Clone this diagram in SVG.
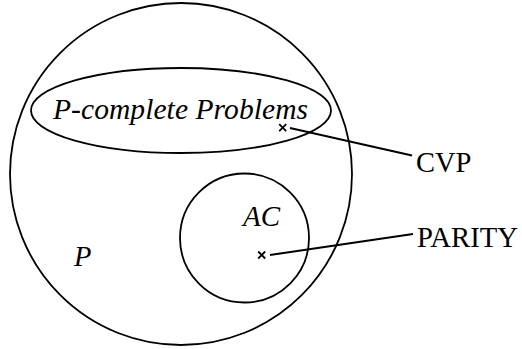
<svg xmlns="http://www.w3.org/2000/svg" width="522" height="349" viewBox="0 0 522 349">
<style>
.s{fill:none;stroke:#000;stroke-width:1.8}
.x{fill:none;stroke:#000;stroke-width:1.8}
text{font-family:'Liberation Serif','Times New Roman',Times,serif;font-size:28.5px;fill:#000}
.i{font-style:italic}
</style>
<rect width="522" height="349" fill="#fff"/>
<g id="P">
<circle class="s" cx="181" cy="174" r="171"/>
<text class="i" x="74" y="266">P</text>
</g>
<g id="Pcomplete">
<ellipse class="s" cx="181" cy="110.5" rx="150" ry="42.5"/>
<text class="i" x="53" y="118.5" style="font-size:29.5px" textLength="255" lengthAdjust="spacing">P-complete Problems</text>
</g>
<g id="AC">
<circle class="s" cx="244.5" cy="238" r="64.5"/>
<text class="i" x="243" y="226" style="font-size:29px">AC</text>
</g>
<g id="CVP">
<path class="x" d="M279.2 124.2l7 7M286.2 124.2l-7 7"/>
<text x="416" y="172">CVP</text>
</g>
<g id="PARITY">
<path class="x" d="M258.2 251.5l7 7M265.2 251.5l-7 7"/>
<text x="417" y="246.5" textLength="101" lengthAdjust="spacingAndGlyphs">PARITY</text>
</g>
<g id="connectors">
<line class="s" x1="290" y1="128" x2="412" y2="155.5"/>
<line class="s" x1="270" y1="255" x2="413" y2="234"/>
</g>
</svg>
